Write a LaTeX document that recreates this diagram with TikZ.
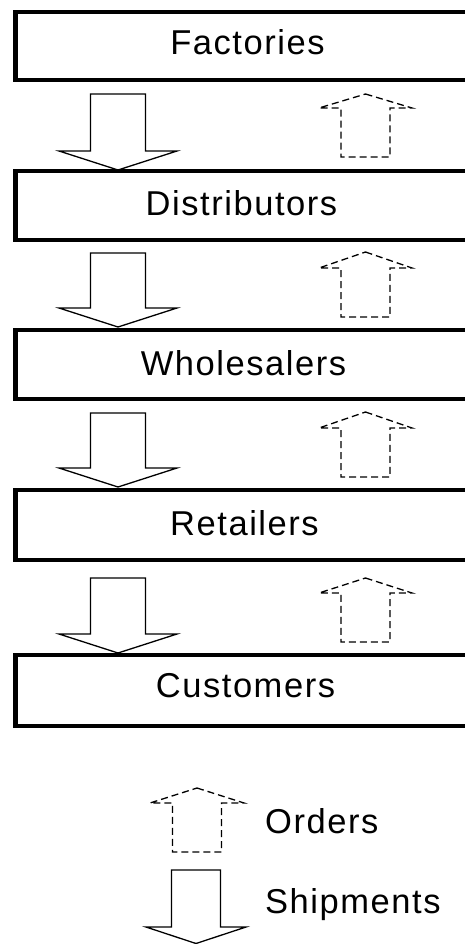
\documentclass[tikz,border=0pt]{standalone}
\usepackage{fontspec}
\setmainfont{Liberation Sans}
\newfontfamily\trackedsans[LetterSpace=4.5]{Liberation Sans}
\usetikzlibrary{calc}

\tikzset{
  tier/.style={draw, line width=4.5pt, outer sep=0pt, inner sep=0pt,
               minimum width=455.5pt},
  tiertext/.style={anchor=base, inner sep=0pt,
                   font=\trackedsans\fontsize{34.5}{41}\selectfont},
  keytext/.style={anchor=base west, inner sep=0pt,
                  font=\trackedsans\fontsize{34.5}{41}\selectfont},
  shipline/.style={draw, line width=1.3pt, line join=miter},
  orderline/.style={draw, line width=1.3pt, dash pattern=on 7pt off 4pt},
  % block arrow pointing down, origin at the tip:
  % #1 length, #2 head height, #3 head half width, #4 shaft half width
  pics/shipment/.style n args={4}{code={
    \path[shipline] (0,0) -- (-#3,-#2) -- (-#4,-#2) -- (-#4,-#1)
      -- (#4,-#1) -- (#4,-#2) -- (#3,-#2) -- cycle;
  }},
  % dashed block arrow pointing up, origin at the tip
  pics/order/.style n args={4}{code={
    \path[orderline] (0,0) -- (#3,#2) -- (#4,#2) -- (#4,#1)
      -- (-#4,#1) -- (-#4,#2) -- (-#3,#2) -- cycle;
  }},
}

\begin{document}
\begin{tikzpicture}[x=1pt, y=-1pt]
  \useasboundingbox (0,0) rectangle (465,944);

  % supply chain tiers
  \node[tier, minimum height=68pt] (fac)  at (243.25,46)    {};
  \node[tier, minimum height=69pt] (dist) at (243.25,205.5) {};
  \node[tier, minimum height=69pt] (whol) at (243.25,364.5) {};
  \node[tier, minimum height=70pt] (ret)  at (243.25,525)   {};
  \node[tier, minimum height=71pt] (cust) at (243.25,690.5) {};

  \node[tiertext] (fac-t)  at (247.5,55) {Factories};
  \node[tiertext] (dist-t) at (241.5,215) {Distributors};
  \node[tiertext] (whol-t) at (243.5,375) {Wholesalers};
  \node[tiertext] (ret-t)  at (244.5,535) {Retailers};
  \node[tiertext] (cust-t) at (245.5,697) {Customers};

  % shipments flow down between tiers
  \coordinate (shipx) at (118,0);
  \coordinate (ordx)  at (365.5,0);
  \pic at ($(shipx |- dist.north)+(0,-1)$) {shipment={76}{19}{59}{27.5}};
  \pic at ($(shipx |- whol.north)+(0,-3)$) {shipment={74}{19}{59}{27.5}};
  \pic at ($(shipx |- ret.north)+(0,-3)$)  {shipment={74}{19}{59}{27.5}};
  \pic at ($(shipx |- cust.north)+(0,-2)$) {shipment={75}{19}{59}{27.5}};

  % orders flow up between tiers
  \pic at ($(ordx |- fac.south)+(0,14)$)  {order={63}{14}{46.5}{24.5}};
  \pic at ($(ordx |- dist.south)+(0,12)$) {order={65}{16}{46.5}{24.5}};
  \pic at ($(ordx |- whol.south)+(0,13)$) {order={65}{16}{46.5}{24.5}};
  \pic at ($(ordx |- ret.south)+(0,18)$)  {order={64}{15}{46.5}{24.5}};

  % key
  \pic at (197,788)   {order={64}{15}{47}{24.5}};
  \node[keytext] (key-ord)  at (265,833) {Orders};
  \pic at (196,943.5) {shipment={73.5}{16.5}{50}{24.5}};
  \node[keytext] (key-ship) at (265,913) {Shipments};
\end{tikzpicture}
\end{document}
